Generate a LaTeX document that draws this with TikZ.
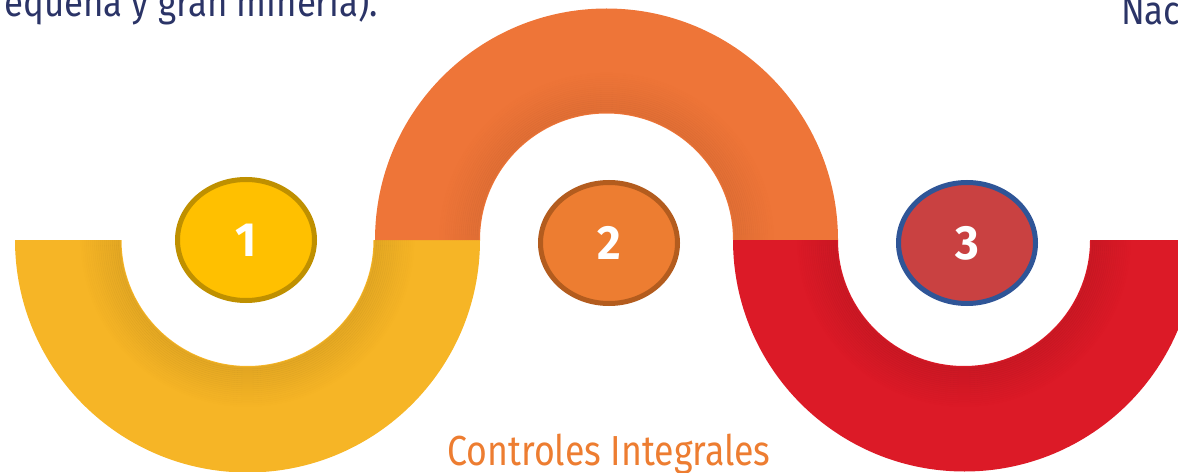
\documentclass[tikz,border=0pt]{standalone}
\usepackage{fontspec}
\setmainfont[FakeStretch=0.85]{Fira Sans}
\newfontfamily\numfont[FakeStretch=0.95]{Fira Sans}
\newfontfamily\topfont[FakeStretch=0.87]{Fira Sans}
\usetikzlibrary{shapes.geometric}
\definecolor{cYel}{HTML}{F6B526}
\definecolor{cOra}{HTML}{EE7538}
\definecolor{cRed}{HTML}{DC1A27}
\definecolor{cNavy}{HTML}{2B3467}
\definecolor{cTitle}{HTML}{ED7D31}
\definecolor{eYelF}{HTML}{FFC000}
\definecolor{eYelD}{HTML}{BF9000}
\definecolor{eOraF}{HTML}{ED7D31}
\definecolor{eOraD}{HTML}{B35C1E}
\definecolor{eRedF}{HTML}{C94141}
\definecolor{eRedD}{HTML}{2F5597}
\tikzset{
  numcirc/.style={ellipse, minimum width=137pt, minimum height=121pt, line width=5pt, inner sep=0pt,
    text=white, font=\numfont\bfseries\fontsize{48}{48}\selectfont},
  navytext/.style={text=cNavy, inner sep=0pt, font=\topfont\fontsize{40}{40}\selectfont},
}
\begin{document}
\begin{tikzpicture}[x=1pt,y=1pt]
\useasboundingbox (0,0) rectangle (1178,472);
\clip (0,0) rectangle (1178,472);
% yellow arc
\begin{scope}
\path[clip] (15,232) arc[start angle=180,end angle=360,radius=232.5] -- (373.5,232)
  arc[start angle=0,end angle=-180,radius=126] -- cycle;
\fill[cYel] (0,0) rectangle (500,240);
\foreach \k [evaluate=\k as \op using 0.0035*(21-\k)] in {1,...,20}
  \draw[black, opacity=\op, line width=2.3pt] (373.5+2*\k,232) arc[start angle=0,end angle=-180,radius=126+2*\k];
\end{scope}
% orange arc
\begin{scope}
\path[clip] (375,232) arc[start angle=180,end angle=0,radius=231.5] -- (733,232)
  arc[start angle=0,end angle=180,radius=126.5] -- cycle;
\fill[cOra] (360,220) rectangle (850,472);
\foreach \k [evaluate=\k as \op using 0.0025*(21-\k)] in {1,...,20}
  \draw[black, opacity=\op, line width=2.3pt] (733+2*\k,232) arc[start angle=0,end angle=180,radius=126.5+2*\k];
\end{scope}
% red arc
\begin{scope}
\path[clip] (733,232) arc[start angle=180,end angle=360,radius=231.5] -- (1090,232)
  arc[start angle=0,end angle=-180,radius=126] -- cycle;
\fill[cRed] (720,0) rectangle (1200,240);
\foreach \k [evaluate=\k as \op using 0.0035*(21-\k)] in {1,...,20}
  \draw[black, opacity=\op, line width=2.3pt] (1090+2*\k,232) arc[start angle=0,end angle=-180,radius=126+2*\k];
\end{scope}
% numbered circles
\node[numcirc, fill=eYelF, draw=eYelD] (c1) at (246,232) {1};
\node[numcirc, fill=eOraF, draw=eOraD] (c2) at (609,229) {2};
\node[numcirc, fill=eRedF, draw=eRedD] (c3) at (967,229) {3};
% texts
\node[navytext, anchor=base east] (tl) at (378,455) {equeña y gran minería).};
\node[navytext, anchor=base west] (tr) at (1121,447) {Nac};
\node[text=cTitle, inner sep=0pt, anchor=base, font=\fontsize{42}{42}\selectfont] (title) at (609,7) {Controles Integrales};
\end{tikzpicture}
\end{document}
